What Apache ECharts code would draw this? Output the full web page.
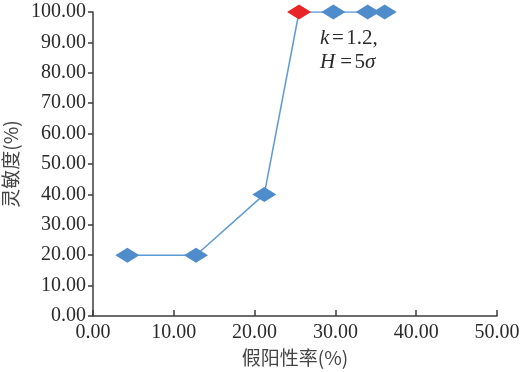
<!DOCTYPE html>
<html>
<head>
<meta charset="utf-8">
<script src="https://cdn.jsdelivr.net/npm/echarts@6/dist/echarts.min.js"></script>
<style>
  html, body { margin: 0; padding: 0; background: #fff; }
  #chart { width: 530px; height: 372px; }
</style>
</head>
<body>
<div id="chart"></div>
<script>
// false positive rate (%) and sensitivity (%)
const falsePositive = [4.25, 12.75, 21.2, 25.5, 29.75, 34.0, 36.1];
const sensitivity = [20, 20, 40, 100, 100, 100, 100];
const highlightIndex = 3; // red point

const serif = '"Liberation Serif", "Times New Roman", serif';
const cjk = '"Noto Sans CJK SC", sans-serif';
const axisColor = '#3c3c3c';

const chart = echarts.init(document.getElementById('chart'));

const points = falsePositive.map((x, i) => ({
  value: [x, sensitivity[i]],
  itemStyle: { color: i === highlightIndex ? '#e8262a' : '#4f8ccb' },
}));

chart.setOption({
  animation: false,
  grid: { left: 93, right: 33, top: 12, bottom: 56, outerBoundsMode: 'none', containLabel: false },
  xAxis: {
    type: 'value',
    min: 0,
    max: 50,
    interval: 10,
    name: '假阳性率(%)',
    nameLocation: 'middle',
    nameGap: 31,
    nameTextStyle: { fontFamily: cjk, fontSize: 19, color: '#444' },
    axisLine: { lineStyle: { color: axisColor, width: 1.5 } },
    axisTick: { inside: true, length: 6, lineStyle: { color: axisColor, width: 1.5 } },
    axisLabel: {
      fontFamily: serif, fontSize: 20, color: '#2a2a2a', margin: 7,
      formatter: v => v.toFixed(2),
    },
    splitLine: { show: false },
  },
  yAxis: {
    type: 'value',
    min: 0,
    max: 100,
    interval: 10,
    name: '灵敏度(%)',
    nameLocation: 'middle',
    nameGap: 67,
    nameTextStyle: { fontFamily: cjk, fontSize: 19, color: '#444' },
    axisLine: { show: true, lineStyle: { color: axisColor, width: 1.5 } },
    axisTick: { show: true, length: 5, lineStyle: { color: axisColor, width: 1.5 } },
    axisLabel: {
      fontFamily: serif, fontSize: 20, color: '#2a2a2a', margin: 7,
      formatter: v => v.toFixed(2),
    },
    splitLine: { show: false },
  },
  series: [{
    type: 'line',
    data: points,
    symbol: 'diamond',
    symbolSize: [24, 15],
    lineStyle: { color: '#5b9bd5', width: 1.5 },
    z: 3,
  }],
  graphic: [{
    type: 'text',
    left: 320,
    top: 26,
    style: {
      text: '{i|k}{e|=}{n|1.2,}\n{i|H}{e|=}{n|5}{i|σ}',
      fontFamily: serif,
      fontSize: 21,
      fill: '#2a2a2a',
      lineHeight: 24,
      rich: {
        i: { fontFamily: serif, fontStyle: 'italic', fontSize: 21, fill: '#2a2a2a' },
        n: { fontFamily: serif, fontSize: 21, fill: '#2a2a2a' },
        e: { fontFamily: serif, fontSize: 21, fill: '#2a2a2a', width: 17, align: 'center' },
      },
    },
  }],
});
</script>
</body>
</html>
